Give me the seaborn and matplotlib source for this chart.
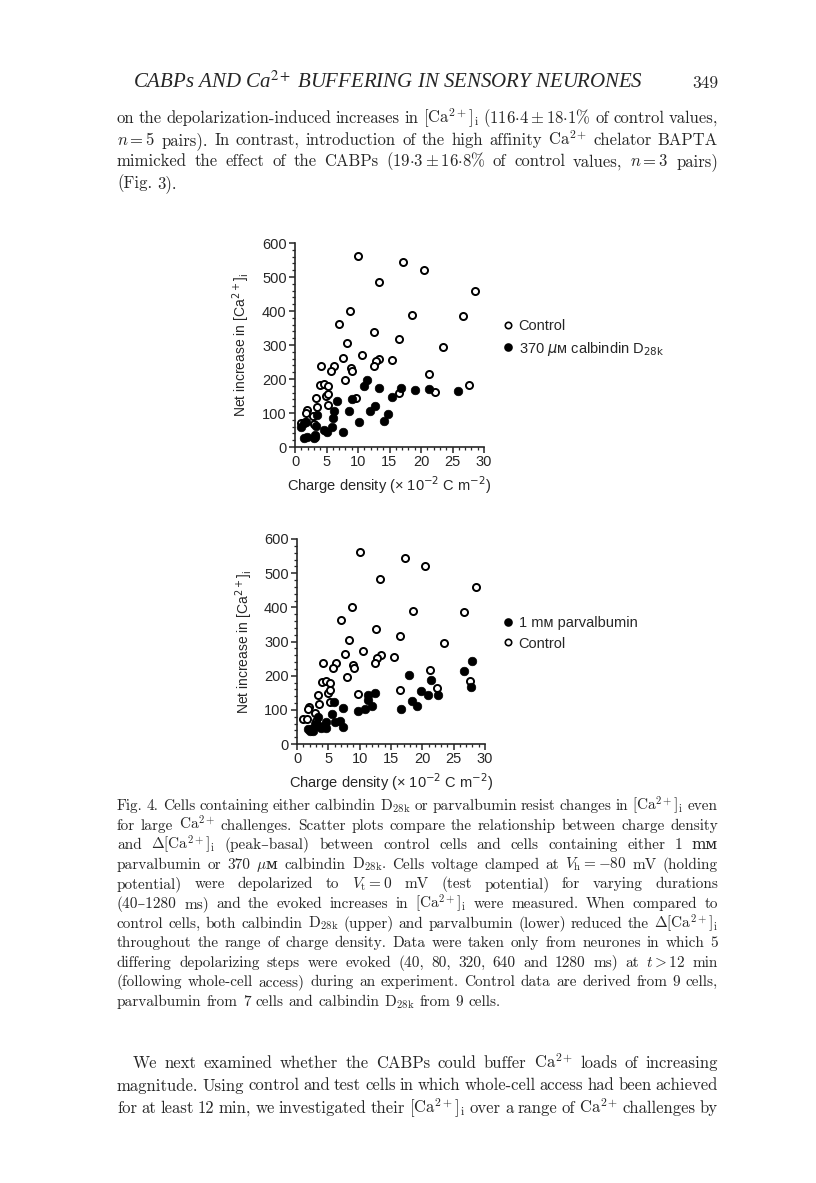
import matplotlib
matplotlib.use("Agg")
import matplotlib.pyplot as plt
import seaborn as sns
from matplotlib.lines import Line2D
from matplotlib.ticker import MultipleLocator

# values
control_x = [10.0, 17.2, 20.4, 13.3, 28.5, 8.7, 18.5, 26.6, 7.0, 12.6, 16.5, 23.5, 8.3, 10.6, 7.6,
             13.4, 12.8, 15.4, 4.1, 6.2, 5.7, 8.9, 9.1, 12.5, 21.3, 8.0, 4.0, 4.6, 5.2, 22.3,
             27.6, 16.5, 4.9, 5.2, 9.7, 3.3, 3.5, 5.3, 1.9, 1.7, 1.0, 1.6, 2.9, 3.0]
control_y = [563, 543, 521, 484, 460, 400, 389, 386, 362, 337, 317, 295, 305, 271, 263,
             260, 253, 256, 238, 238, 223, 231, 223, 238, 216, 197, 182, 185, 180, 163,
             183, 158, 150, 157, 145, 143, 118, 123, 108, 101, 72, 74, 90, 67]

calb_x = [11.4, 10.9, 13.4, 16.8, 19.0, 21.2, 25.8, 15.4, 9.1, 12.7, 11.9, 8.5, 14.7, 14.2, 10.1,
          6.6, 6.2, 6.1, 5.9, 7.6, 5.1, 4.6, 3.5, 3.4, 3.2, 3.2, 1.7, 0.9, 1.5, 1.9, 1.5, 3.0]
calb_y = [198, 180, 173, 175, 169, 171, 164, 146, 142, 120, 107, 107, 98, 77, 74,
          136, 105, 85, 59, 44, 45, 49, 95, 63, 34, 28, 73, 58, 26, 28, 70, 27]

parv_x = [27.9, 26.7, 27.7, 17.8, 21.4, 19.8, 20.9, 22.5, 18.3, 19.1, 16.6, 12.4, 11.3, 11.3, 12.0,
          10.9, 9.8, 7.4, 5.9, 5.6, 6.0, 6.9, 7.4, 4.7, 4.3, 4.7, 3.9, 3.4, 2.8, 2.2, 1.7, 2.0, 2.6, 3.5]
parv_y = [243, 214, 168, 201, 188, 156, 143, 143, 125, 110, 101, 149, 144, 129, 110,
          103, 97, 106, 123, 87, 63, 68, 49, 63, 53, 46, 46, 78, 58, 44, 44, 38, 39, 53]

x_label = "Charge density (× 10$^{-2}$ C m$^{-2}$)"
y_label = "Net increase in [Ca$^{2+}$]$_\\mathrm{i}$"

header = "CABPs AND Ca$^{2+}$ BUFFERING IN SENSORY NEURONES"
body_lines = [
    "on the depolarization-induced increases in [Ca$^{2+}$]$_\\mathrm{i}$ ($116{\\cdot}4\\pm18{\\cdot}1$% of control values,",
    "$n=5$ pairs). In contrast, introduction of the high affinity Ca$^{2+}$ chelator BAPTA",
    "mimicked the effect of the CABPs ($19{\\cdot}3\\pm16{\\cdot}8$% of control values, $n=3$ pairs)",
    "(Fig. 3).",
]
caption_lines = [
    "Fig. 4. Cells containing either calbindin D$_{28\\mathrm{k}}$ or parvalbumin resist changes in [Ca$^{2+}$]$_\\mathrm{i}$ even",
    "for large Ca$^{2+}$ challenges. Scatter plots compare the relationship between charge density",
    "and $\\Delta$[Ca$^{2+}$]$_\\mathrm{i}$ (peak–basal) between control cells and cells containing either 1 mᴍ",
    "parvalbumin or 370 $\\mu$ᴍ calbindin D$_{28\\mathrm{k}}$. Cells voltage clamped at $V_\\mathrm{h}=-80$ mV (holding",
    "potential) were depolarized to $V_\\mathrm{t}=0$ mV (test potential) for varying durations",
    "(40–1280 ms) and the evoked increases in [Ca$^{2+}$]$_\\mathrm{i}$ were measured. When compared to",
    "control cells, both calbindin D$_{28\\mathrm{k}}$ (upper) and parvalbumin (lower) reduced the $\\Delta$[Ca$^{2+}$]$_\\mathrm{i}$",
    "throughout the range of charge density. Data were taken only from neurones in which 5",
    "differing depolarizing steps were evoked (40, 80, 320, 640 and 1280 ms) at $t>12$ min",
    "(following whole-cell access) during an experiment. Control data are derived from 9 cells,",
    "parvalbumin from 7 cells and calbindin D$_{28\\mathrm{k}}$ from 9 cells.",
]
tail_lines = [
    "We next examined whether the CABPs could buffer Ca$^{2+}$ loads of increasing",
    "magnitude. Using control and test cells in which whole-cell access had been achieved",
    "for at least 12 min, we investigated their [Ca$^{2+}$]$_\\mathrm{i}$ over a range of Ca$^{2+}$ challenges by",
]

W, H = 816, 1183
SERIF = ["cmr10", "DejaVu Serif"]
SERIF_SC = ["DejaVu Serif", "DejaVu Sans"]  # for the small-capital M

sns.set_style("ticks")
plt.rcParams["font.family"] = ["Liberation Sans", "DejaVu Sans"]
plt.rcParams["axes.unicode_minus"] = True

fig = plt.figure(figsize=(W / 100, H / 100), dpi=100)
renderer = fig.canvas.get_renderer()


def put_line(text, x0, x1, y, size, justify=True):
    """Place one line of page text, justified between x0 and x1 (pixels)."""
    words = text.split(" ")
    items = [fig.text(0, 1 - y / H, w, fontsize=size,
                      family=SERIF_SC if "ᴍ" in w else SERIF,
                      math_fontfamily="cm", va="baseline") for w in words]
    widths = [t.get_window_extent(renderer).width for t in items]
    if justify and len(words) > 1:
        gap = (x1 - x0 - sum(widths)) / (len(words) - 1)
    else:
        gap = size * 100 / 72 * 0.33
    x = x0
    for t, w in zip(items, widths):
        t.set_x(x / W)
        x += w + gap


def panel(x0, x1, y_top, y_bot, open_x, open_y, fill_x, fill_y):
    ax = fig.add_axes([x0 / W, 1 - y_bot / H, (x1 - x0) / W, (y_bot - y_top) / H])
    sns.scatterplot(x=open_x, y=open_y, ax=ax, s=26, color="white", edgecolor="black",
                    linewidth=1.4, clip_on=False, zorder=3)
    sns.scatterplot(x=fill_x, y=fill_y, ax=ax, s=38, color="black", edgecolor="black",
                    linewidth=0.5, clip_on=False, zorder=4)
    ax.set_xlim(0, 30)
    ax.set_ylim(0, 600)
    ax.xaxis.set_major_locator(MultipleLocator(5))
    ax.xaxis.set_minor_locator(MultipleLocator(1))
    ax.yaxis.set_major_locator(MultipleLocator(100))
    ax.yaxis.set_minor_locator(MultipleLocator(20))
    ax.tick_params(which="major", direction="out", length=4, width=1.1, labelsize=10.5, pad=2)
    ax.tick_params(which="minor", direction="out", length=2, width=0.9)
    for side in ("left", "bottom"):
        ax.spines[side].set_linewidth(1.2)
    sns.despine(ax=ax)
    ax.set_xlabel(x_label, fontsize=10.5, math_fontfamily="dejavusans")
    ax.set_ylabel(y_label, fontsize=10, math_fontfamily="dejavusans")
    ax.yaxis.set_label_coords(-0.225, 0.5)
    ax.xaxis.set_label_coords(0.5, -0.135)
    return ax


def legend(x, y, entries):
    handles = [Line2D([], [], marker="o", ls="", ms=5 if filled else 4.6,
                      mfc="black" if filled else "white", mec="black", mew=1.2)
               for filled, _ in entries]
    fig.legend(handles, [lab for _, lab in entries], loc="upper left",
               bbox_to_anchor=(x / W, 1 - y / H), frameon=False, fontsize=10.5,
               handlelength=0.6, handletextpad=0.4, labelspacing=0.45,
               borderpad=0, borderaxespad=0)


panel(295, 484, 243, 447, control_x, control_y, calb_x, calb_y)
legend(504, 319, [(False, "Control"), (True, "370 $\\mu$ᴍ calbindin D$_{28\\mathrm{k}}$")])

panel(297, 485, 539, 744, control_x, control_y, parv_x, parv_y)
legend(504, 616, [(True, "1 mᴍ parvalbumin"), (False, "Control")])

# page text
fig.text(133 / W, 1 - 88 / H, header, fontsize=15, family=["Liberation Serif"],
         style="italic", math_fontfamily="stix", va="baseline")
fig.text(718 / W, 1 - 88 / H, "349", fontsize=12.5, family=SERIF, ha="right", va="baseline")

for i, line in enumerate(body_lines):
    put_line(line, 117, 718, 123 + i * 21.7, 12, justify=i < len(body_lines) - 1)

for i, line in enumerate(caption_lines):
    put_line(line, 117, 718, 810 + i * 19.6, 11, justify=i < len(caption_lines) - 1)

for i, line in enumerate(tail_lines):
    put_line(line, 133 if i == 0 else 117, 718, 1068 + i * 22.5, 12)

fig.savefig("out.png", dpi=100)
